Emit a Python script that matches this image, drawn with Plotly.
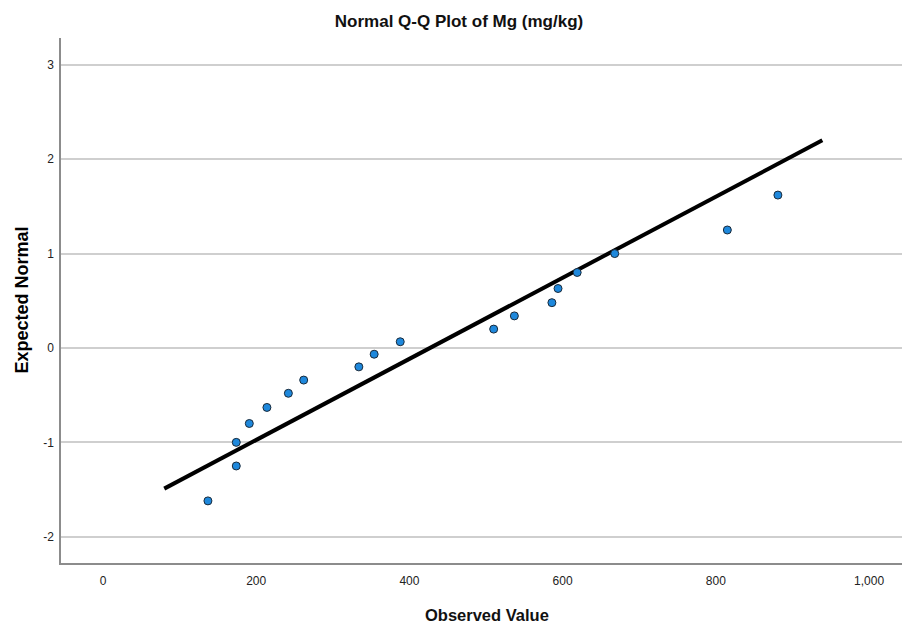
import plotly.graph_objects as go

# Data
observed = [137, 174, 174, 191, 214, 242, 262, 334, 354, 388,
            510, 537, 586, 594, 619, 668, 815, 881]
expected = [-1.62, -1.25, -1.00, -0.80, -0.63, -0.48, -0.34, -0.20, -0.066, 0.066,
            0.20, 0.34, 0.48, 0.63, 0.80, 1.00, 1.25, 1.62]
line_x = [80, 939]
line_y = [-1.49, 2.20]

x_ticks = [0, 200, 400, 600, 800, 1000]
x_tick_text = ["0", "200", "400", "600", "800", "1,000"]
y_ticks = [-2, -1, 0, 1, 2, 3]
y_tick_text = ["-2", "-1", "0", "1", "2", "3"]

FONT = "Liberation Sans, Arial, sans-serif"

fig = go.Figure()
fig.add_trace(go.Scatter(x=line_x, y=line_y, mode="lines",
                         line=dict(color="black", width=4), hoverinfo="skip",
                         showlegend=False))
fig.add_trace(go.Scatter(x=observed, y=expected, mode="markers",
                         marker=dict(size=8, color="#1E88DC",
                                     line=dict(color="#1a2a3a", width=1)),
                         showlegend=False))

fig.update_layout(
    width=902, height=629,
    margin=dict(l=61, r=0, t=38, b=66),
    paper_bgcolor="white", plot_bgcolor="white",
    title=dict(text="<b>Normal Q-Q Plot of Mg (mg/kg)</b>", x=459 / 902, xanchor="center",
               y=1 - 21 / 629, yanchor="middle",
               font=dict(family=FONT, size=17, color="#111")),
    xaxis=dict(range=[-54.8, 1043], tickvals=x_ticks, ticktext=x_tick_text,
               showgrid=False, zeroline=False, showline=True,
               linecolor="#8c8c8c", linewidth=1.5,
               ticks="outside", ticklen=6, tickcolor="rgba(0,0,0,0)",
               tickfont=dict(family=FONT, size=12, color="#222")),
    yaxis=dict(range=[-2.278, 3.284], tickvals=y_ticks, ticktext=y_tick_text,
               showgrid=True, gridcolor="#cfcfcf", gridwidth=1.5,
               zeroline=False, showline=True,
               linecolor="#8c8c8c", linewidth=1.5,
               ticks="outside", ticklen=3, tickcolor="rgba(0,0,0,0)",
               tickfont=dict(family=FONT, size=12, color="#222")),
    annotations=[
        dict(text="<b>Observed Value</b>", xref="paper", yref="paper",
             x=(487 - 61) / 841, y=-(615 - 563) / 525, xanchor="center",
             yanchor="middle", showarrow=False,
             font=dict(family=FONT, size=16.5, color="#111")),
        dict(text="<b>Expected Normal</b>", xref="paper", yref="paper",
             x=-(61 - 21) / 841, y=0.5, xanchor="center", yanchor="middle",
             textangle=-90, showarrow=False,
             font=dict(family=FONT, size=18, color="black")),
    ],
)

fig.write_html("out.html")
